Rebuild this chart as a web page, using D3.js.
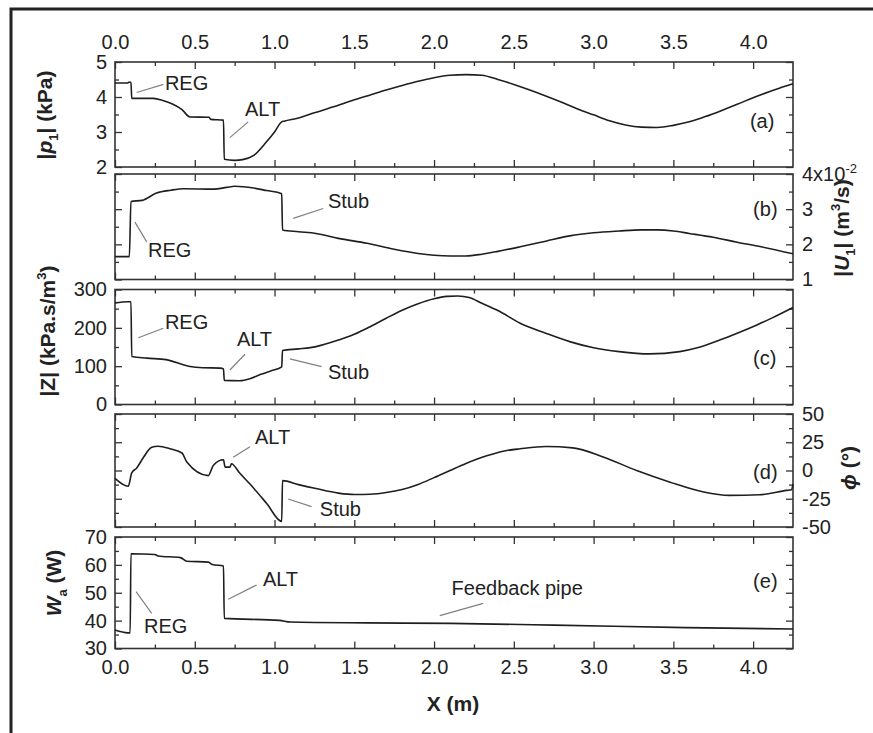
<!DOCTYPE html>
<html>
<head>
<meta charset="utf-8">
<script src="https://cdn.jsdelivr.net/npm/d3@7"></script>
<style>
  body { margin: 0; background: #fff; }
  svg { display: block; }
  text { font-family: "Liberation Sans", Arial, sans-serif; fill: #222; }
</style>
</head>
<body>
<svg id="chart" width="873" height="733"></svg>
<script>
// Position along the loop, metres
const xTicksMajor = [0, 0.5, 1, 1.5, 2, 2.5, 3, 3.5, 4];
const xTicksMinor = [0.25, 0.75, 1.25, 1.75, 2.25, 2.75, 3.25, 3.75];

// (a) pressure amplitude |p1|, kPa
const pX = [0, 0.08, 0.085, 0.10, 0.105, 0.24, 0.30, 0.36, 0.42, 0.47, 0.59, 0.60, 0.68, 0.685, 0.75, 0.80, 0.87, 0.95, 1.0, 1.045, 1.06, 1.15, 1.25, 1.37, 1.5, 1.6, 1.7, 1.8, 1.9, 2.0, 2.1, 2.2, 2.3, 2.4, 2.5, 2.6, 2.7, 2.8, 2.9, 3.0, 3.1, 3.2, 3.3, 3.4, 3.5, 3.6, 3.7, 3.8, 3.9, 4.0, 4.1, 4.2, 4.25];
const pVal = [4.40, 4.40, 4.42, 4.42, 3.96, 3.96, 3.90, 3.80, 3.64, 3.43, 3.42, 3.36, 3.34, 2.22, 2.19, 2.21, 2.33, 2.72, 3.0, 3.29, 3.31, 3.40, 3.55, 3.72, 3.92, 4.06, 4.2, 4.33, 4.45, 4.55, 4.62, 4.64, 4.62, 4.5, 4.36, 4.2, 4.03, 3.85, 3.66, 3.49, 3.32, 3.2, 3.14, 3.13, 3.19, 3.29, 3.44, 3.61, 3.79, 3.98, 4.15, 4.31, 4.38];
const pTicks = [2, 3, 4, 5];
const pMinor = [2.5, 3.5, 4.5];

// (b) volume flow rate |U1|, x10^-2 m^3/s
const uX = [0, 0.09, 0.10, 0.17, 0.26, 0.35, 0.43, 0.62, 0.70, 0.75, 0.87, 0.95, 1.045, 1.05, 1.15, 1.26, 1.4, 1.58, 1.75, 1.9, 2.0, 2.1, 2.2, 2.3, 2.4, 2.54, 2.7, 2.85, 3.0, 3.16, 3.3, 3.4, 3.5, 3.6, 3.75, 3.9, 4.05, 4.25];
const uVal = [1.65, 1.65, 3.22, 3.25, 3.46, 3.54, 3.58, 3.57, 3.62, 3.65, 3.6, 3.53, 3.44, 2.41, 2.36, 2.31, 2.17, 2.03, 1.86, 1.74, 1.69, 1.67, 1.67, 1.72, 1.8, 1.93, 2.09, 2.24, 2.33, 2.38, 2.41, 2.41, 2.38, 2.31, 2.2, 2.06, 1.93, 1.73];
const uTicks = [1, 2, 3, 4];
const uMinor = [1.5, 2.5, 3.5];

// (c) impedance |Z|, kPa.s/m^3
const zX = [0, 0.08, 0.10, 0.105, 0.2, 0.32, 0.47, 0.55, 0.66, 0.68, 0.685, 0.78, 0.85, 0.91, 0.98, 1.045, 1.05, 1.15, 1.26, 1.4, 1.5, 1.6, 1.7, 1.8, 1.9, 2.0, 2.08, 2.15, 2.22, 2.3, 2.4, 2.54, 2.7, 2.85, 3.0, 3.16, 3.35, 3.54, 3.65, 3.79, 3.9, 4.02, 4.12, 4.25];
const zVal = [265, 268, 268, 125, 121, 117, 99, 96, 95, 93, 63, 62, 68, 78, 88, 98, 141, 145, 151, 168, 183, 203, 225, 246, 263, 276, 282, 283, 279, 264, 245, 212, 186, 164, 148, 138, 132, 138, 148, 168, 186, 207, 226, 253];
const zTicks = [0, 100, 200, 300];
const zMinor = [50, 150, 250];

// (d) phase angle phi, degrees
const phX = [0, 0.083, 0.105, 0.135, 0.18, 0.23, 0.27, 0.35, 0.42, 0.45, 0.585, 0.616, 0.68, 0.69, 0.72, 0.73, 0.78, 0.846, 0.95, 1.045, 1.05, 1.15, 1.26, 1.4, 1.5, 1.6, 1.7, 1.8, 1.9, 2.0, 2.1, 2.2, 2.33, 2.45, 2.54, 2.7, 2.87, 3.06, 3.27, 3.48, 3.69, 3.85, 4.04, 4.21, 4.24, 4.25];
const phVal = [-7, -14, -2, 2, 12, 20.5, 21.5, 19, 15.5, 7.5, -4.5, 4.5, 9.5, 3, 3, 6, -2, -12, -29, -45, -9, -12.5, -16, -20, -21.3, -21, -19.5, -16.8, -12.3, -6.3, 0, 6.2, 13, 17.5, 19.2, 21.2, 20, 12, 0, -10.3, -19, -22, -21.5, -17.6, -17, -12];
const phTicks = [-50, -25, 0, 25, 50];
const phMinor = [-37.5, -12.5, 12.5, 37.5];

// (e) acoustic power Wa, W
const wX = [0, 0.08, 0.095, 0.10, 0.25, 0.27, 0.41, 0.45, 0.585, 0.61, 0.68, 0.685, 1.03, 1.1, 1.58, 2.1, 2.75, 3.58, 4.25];
const wVal = [36.6, 35.6, 35.6, 64.0, 63.7, 63.2, 62.6, 61.3, 61.0, 60.1, 59.6, 40.8, 40.1, 39.5, 39.2, 39.0, 38.4, 37.5, 37.0];
const wTicks = [30, 40, 50, 60, 70];
const wMinor = [35, 45, 55, 65];

// Component call-outs, in data units of each panel: text anchor and leader line
const notesA = [
  { t: "REG", x: 0.313, y: 4.2, l: [0.136, 4.13, 0.303, 4.36] },
  { t: "ALT", x: 0.815, y: 3.46, l: [0.72, 2.84, 0.835, 3.29] },
  { t: "(a)", x: 3.98, y: 3.11 }
];
const notesB = [
  { t: "REG", x: 0.207, y: 1.64, l: [0.125, 2.63, 0.199, 2.07] },
  { t: "Stub", x: 1.335, y: 3.03, l: [1.117, 2.74, 1.305, 3.02] },
  { t: "(b)", x: 4.0, y: 2.81 }
];
const notesC = [
  { t: "REG", x: 0.313, y: 197, l: [0.146, 174, 0.303, 199] },
  { t: "ALT", x: 0.764, y: 153, l: [0.72, 90, 0.815, 131] },
  { t: "Stub", x: 1.335, y: 66.5, l: [1.096, 119, 1.295, 98.6] },
  { t: "(c)", x: 4.0, y: 103 }
];
const notesD = [
  { t: "ALT", x: 0.877, y: 23.5, l: [0.741, 11.7, 0.846, 21.1] },
  { t: "Stub", x: 1.284, y: -40.3, l: [1.086, -25.2, 1.232, -32] },
  { t: "(d)", x: 4.0, y: -7.5 }
];
const notesE = [
  { t: "REG", x: 0.182, y: 35.6, l: [0.132, 50.4, 0.23, 42.6] },
  { t: "ALT", x: 0.927, y: 52.4, l: [0.71, 47.65, 0.888, 52.8] },
  { t: "Feedback pipe", x: 2.11, y: 49.2, l: [2.036, 41.8, 2.308, 46.2] },
  { t: "(e)", x: 4.0, y: 51.7 }
];

const svg = d3.select("#chart");
const FONT = '"Liberation Sans", Arial, sans-serif';
const INK = "#1e1e1e";
const AXIS = "#333";

// outer frame of the figure (left and top rules)
svg.append("path")
  .attr("d", "M11,733 V9 H873")
  .attr("fill", "none").attr("stroke", "#222").attr("stroke-width", 3);

const x = d3.scaleLinear().domain([0, 4.25]).range([115, 793]);

const panels = [
  { xs: pX, ys: pVal, top: 62, bottom: 167, domain: [2, 5], ticks: pTicks, minor: pMinor, side: "left", notes: notesA, topLabels: true,
    title: [["|", {}], ["p", { italic: true }], ["1", { sub: true }], ["| (kPa)", {}]], tx: 44, ty: 115 },
  { xs: uX, ys: uVal, top: 174, bottom: 279.5, domain: [1, 4], ticks: uTicks, minor: uMinor, side: "right", notes: notesB,
    title: [["|", {}], ["U", { italic: true }], ["1", { sub: true }], ["| (m", {}], ["3", { sup: true }], ["/s)", {}]], tx: 841, ty: 228 },
  { xs: zX, ys: zVal, top: 289.5, bottom: 404.5, domain: [0, 300], ticks: zTicks, minor: zMinor, side: "left", notes: notesC,
    title: [["|Z| (kPa.s/m", {}], ["3", { sup: true }], [")", {}]], tx: 47, ty: 331 },
  { xs: phX, ys: phVal, top: 414, bottom: 527, domain: [-50, 50], ticks: phTicks, minor: phMinor, side: "right", notes: notesD,
    title: [["\u03d5", { italic: true }], [" (\u00b0)", {}]], tx: 848, ty: 468 },
  { xs: wX, ys: wVal, top: 537, bottom: 648.5, domain: [30, 70], ticks: wTicks, minor: wMinor, side: "left", notes: notesE, bottomLabels: true,
    title: [["W", { italic: true }], ["a", { sub: true }], [" (W)", {}]], tx: 53, ty: 583 }
];

// plain hyphen for negative tick values
const intFmt = d => String(d);

function styleAxis(g) {
  g.attr("font-family", FONT).attr("font-size", 20).attr("color", AXIS);
  g.select(".domain").remove();
  g.selectAll(".tick line").attr("stroke-width", 1.3);
  g.selectAll(".tick text").attr("fill", "#222");
}

// rotated axis titles with italic symbols and sub/superscripts (base size 21px)
function addRich(textSel, parts) {
  let undo = 0;
  parts.forEach(([s, o]) => {
    const ts = textSel.append("tspan").text(s);
    let dy = -undo;
    undo = 0;
    if (o.italic) ts.attr("font-style", "italic");
    if (o.sub) { ts.attr("font-size", 13); dy += 6; undo = 6; }
    if (o.sup) { ts.attr("font-size", 13); dy -= 9; undo = -9; }
    if (dy !== 0) ts.attr("dy", dy);
  });
}

panels.forEach(p => {
  const y = d3.scaleLinear().domain(p.domain).range([p.bottom, p.top]);
  const g = svg.append("g");

  // x ticks, inward on top and bottom edges
  const major = 7, minor = 4;
  const topAx = g.append("g").attr("transform", `translate(0,${p.top})`)
    .call(d3.axisTop(x).tickValues(xTicksMajor).tickSizeInner(-major).tickSizeOuter(0)
      .tickPadding(13).tickFormat(p.topLabels ? d3.format(".1f") : () => ""));
  styleAxis(topAx);
  const topMin = g.append("g").attr("transform", `translate(0,${p.top})`)
    .call(d3.axisTop(x).tickValues(xTicksMinor).tickSizeInner(-minor).tickSizeOuter(0).tickFormat(() => ""));
  styleAxis(topMin);
  const botAx = g.append("g").attr("transform", `translate(0,${p.bottom})`)
    .call(d3.axisBottom(x).tickValues(xTicksMajor).tickSizeInner(-major).tickSizeOuter(0)
      .tickPadding(11).tickFormat(p.bottomLabels ? d3.format(".1f") : () => ""));
  styleAxis(botAx);
  const botMin = g.append("g").attr("transform", `translate(0,${p.bottom})`)
    .call(d3.axisBottom(x).tickValues(xTicksMinor).tickSizeInner(-minor).tickSizeOuter(0).tickFormat(() => ""));
  styleAxis(botMin);

  // y ticks, inward on left and right edges; labels on one side
  const L = x.range()[0], R = x.range()[1];
  const leftAx = g.append("g").attr("transform", `translate(${L},0)`)
    .call(d3.axisLeft(y).tickValues(p.ticks).tickSizeInner(-major).tickSizeOuter(0)
      .tickPadding(8).tickFormat(p.side === "left" ? intFmt : () => ""));
  styleAxis(leftAx);
  const leftMin = g.append("g").attr("transform", `translate(${L},0)`)
    .call(d3.axisLeft(y).tickValues(p.minor).tickSizeInner(-minor).tickSizeOuter(0).tickFormat(() => ""));
  styleAxis(leftMin);
  const rightAx = g.append("g").attr("transform", `translate(${R},0)`)
    .call(d3.axisRight(y).tickValues(p.ticks).tickSizeInner(-major).tickSizeOuter(0)
      .tickPadding(9).tickFormat(p.side === "right" ? intFmt : () => ""));
  styleAxis(rightAx);
  const rightMin = g.append("g").attr("transform", `translate(${R},0)`)
    .call(d3.axisRight(y).tickValues(p.minor).tickSizeInner(-minor).tickSizeOuter(0).tickFormat(() => ""));
  styleAxis(rightMin);

  // scale factor on the top flow-rate tick
  if (p.ys === uVal) {
    rightAx.selectAll(".tick text").filter(d => d === 4).each(function () {
      const t = d3.select(this).text("4x10");
      t.append("tspan").attr("font-size", 13).attr("dy", -8).text("-2");
    });
  }

  // panel frame
  g.append("rect")
    .attr("x", L).attr("y", p.top).attr("width", R - L).attr("height", p.bottom - p.top)
    .attr("fill", "none").attr("stroke", AXIS).attr("stroke-width", 1.6);

  // profile along the loop
  g.append("path")
    .datum(d3.zip(p.xs, p.ys))
    .attr("d", d3.line().curve(d3.curveMonotoneX).x(d => x(d[0])).y(d => y(d[1])))
    .attr("fill", "none").attr("stroke", INK).attr("stroke-width", 1.6)
    .attr("stroke-linejoin", "round");

  // call-outs
  p.notes.forEach(n => {
    if (n.l) {
      g.append("line")
        .attr("x1", x(n.l[0])).attr("y1", y(n.l[1]))
        .attr("x2", x(n.l[2])).attr("y2", y(n.l[3]))
        .attr("stroke", "#808080").attr("stroke-width", 1.2);
    }
    g.append("text").attr("x", x(n.x)).attr("y", y(n.y))
      .attr("font-size", 20).text(n.t);
  });

  // axis title
  const t = g.append("text")
    .attr("transform", `translate(${p.tx},${p.ty}) rotate(-90)`)
    .attr("text-anchor", "middle").attr("dy", "0.36em")
    .attr("font-size", 21).attr("font-weight", "bold");
  addRich(t, p.title);
});

svg.append("text")
  .attr("x", 453).attr("y", 711)
  .attr("text-anchor", "middle").attr("font-size", 21).attr("font-weight", "bold")
  .text("X (m)");
</script>
</body>
</html>
